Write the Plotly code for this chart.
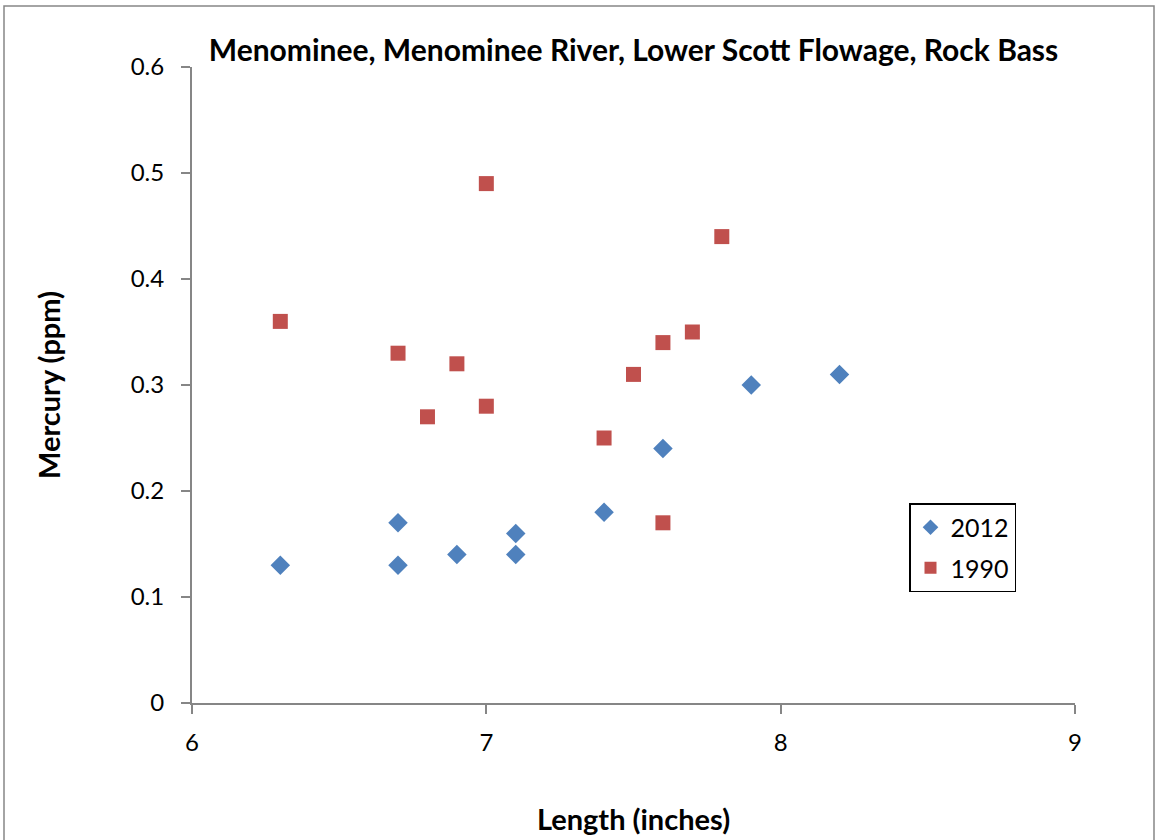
import plotly.graph_objects as go

x2012 = [6.3, 6.7, 6.7, 6.9, 7.1, 7.1, 7.4, 7.6, 7.9, 8.2]
y2012 = [0.13, 0.17, 0.13, 0.14, 0.16, 0.14, 0.18, 0.24, 0.30, 0.31]
x1990 = [6.3, 6.7, 6.8, 6.9, 7.0, 7.0, 7.4, 7.5, 7.6, 7.6, 7.7, 7.8]
y1990 = [0.36, 0.33, 0.27, 0.32, 0.49, 0.28, 0.25, 0.31, 0.34, 0.17, 0.35, 0.44]
xticks = [6, 7, 8, 9]
yticks = [0, 0.1, 0.2, 0.3, 0.4, 0.5, 0.6]

FONT = "Lato"
fig = go.Figure()
fig.add_trace(go.Scatter(x=x2012, y=y2012, mode="markers", name="2012", legendgroup="a",
                         marker=dict(symbol="diamond", size=15, color="#4F81BD")))
fig.add_trace(go.Scatter(x=x1990, y=y1990, mode="markers", name="1990", legendgroup="b",
                         marker=dict(symbol="square", size=15, color="#C0504D")))

L, R, T, B = 192, 1075, 67, 703
W, H = 1156, 840
pw, ph = R - L, B - T

def px(x):
    return (x - L) / pw

def py(y):
    return (B - y) / ph

axis_common = dict(showgrid=False, zeroline=False, showline=True, linecolor="#868686", linewidth=2,
                   ticks="outside", ticklen=9, tickcolor="#868686", tickwidth=2,
                   tickfont=dict(size=24), automargin=False)

fig.update_layout(
    width=W, height=H,
    margin=dict(l=L, r=W - R, t=T, b=H - B, pad=0),
    paper_bgcolor="white", plot_bgcolor="white",
    font=dict(family=FONT, size=24, color="black"),
    title=dict(text="<b>Menominee, Menominee River, Lower Scott Flowage, Rock Bass</b>",
               x=px((L + R) / 2), xanchor="center", xref="paper",
               y=1 - 50 / H, yanchor="middle", font=dict(size=30, family=FONT)),
    xaxis=dict(range=[6, 9], tickvals=xticks, ticktext=[str(v) for v in xticks],
               ticklabelstandoff=8,
               title=dict(text="<b>Length (inches)</b>", font=dict(size=29), standoff=55),
               **axis_common),
    yaxis=dict(range=[0, 0.6], tickvals=yticks, ticktext=[f"{v:g}" for v in yticks],
               ticklabelstandoff=12,
               title=dict(text="<b>Mercury (ppm)</b>", font=dict(size=29), standoff=62),
               **axis_common),
    legend=dict(x=px(909), y=py(503), xanchor="left", yanchor="top",
                bordercolor="black", borderwidth=1.5, bgcolor="white",
                font=dict(size=25), itemsizing="constant",
                traceorder="grouped", tracegroupgap=5),
    showlegend=True,
)
fig.add_shape(type="rect", xref="paper", yref="paper",
              x0=px(4), x1=px(1154), y0=py(850), y1=py(6),
              line=dict(color="#868686", width=1.5), fillcolor="rgba(0,0,0,0)", layer="below")

fig.write_html("out.html", config={"displayModeBar": False},
               post_script="document.body.style.margin='0';")
